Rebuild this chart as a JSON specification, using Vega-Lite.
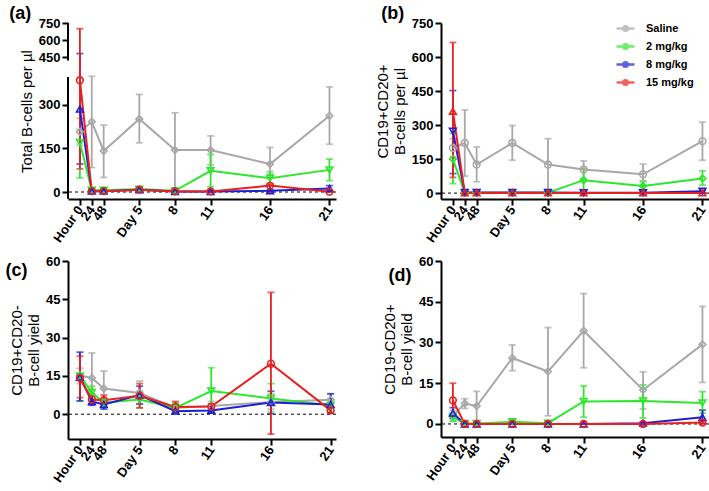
{
  "$schema": "https://vega.github.io/schema/vega-lite/v6.json",
  "background": "white",
  "padding": {"left": 5, "top": 5, "right": 0, "bottom": 0},
  "columns": 2,
  "spacing": {"row": 10, "column": 37},
  "resolve": {"scale": {"color": "independent", "shape": "independent", "x": "independent", "y": "independent"}, "legend": {"color": "independent", "shape": "independent"}},
  "config": {
    "font": "Liberation Sans",
    "view": {"stroke": null},
    "axis": {"grid": false, "labelOverlap": false, "labelBound": false, "domainColor": "black", "domainWidth": 2, "tickColor": "black", "tickWidth": 2, "tickSize": 6, "labelFont": "Liberation Sans", "labelFontWeight": "bold", "labelFontSize": 13, "labelColor": "black", "titleFont": "Liberation Sans", "titleFontWeight": "normal", "titleFontSize": 15, "titleColor": "black"},
    "title": {"font": "Liberation Sans", "fontSize": 18, "fontWeight": "bold", "color": "black", "anchor": "start", "frame": "bounds"}
  },
  "datasets": {
    "d": [
      {"p":"a","g":"Saline","t":0,"v":207,"lo":160,"hi":253},
      {"p":"a","g":"Saline","t":1,"v":241,"lo":84,"hi":396},
      {"p":"a","g":"Saline","t":2,"v":141,"lo":50,"hi":230},
      {"p":"a","g":"Saline","t":5,"v":251,"lo":169,"hi":335},
      {"p":"a","g":"Saline","t":8,"v":144,"lo":0,"hi":272},
      {"p":"a","g":"Saline","t":11,"v":144,"lo":93,"hi":193},
      {"p":"a","g":"Saline","t":16,"v":96,"lo":62,"hi":153},
      {"p":"a","g":"Saline","t":21,"v":262,"lo":164,"hi":361},
      {"p":"a","g":"2 mg/kg","t":0,"v":170,"lo":48,"hi":215},
      {"p":"a","g":"2 mg/kg","t":1,"v":6,"lo":1,"hi":12},
      {"p":"a","g":"2 mg/kg","t":2,"v":6,"lo":1,"hi":11},
      {"p":"a","g":"2 mg/kg","t":5,"v":10,"lo":5,"hi":15},
      {"p":"a","g":"2 mg/kg","t":8,"v":4,"lo":0,"hi":10},
      {"p":"a","g":"2 mg/kg","t":11,"v":73,"lo":18,"hi":129},
      {"p":"a","g":"2 mg/kg","t":16,"v":47,"lo":24,"hi":70},
      {"p":"a","g":"2 mg/kg","t":21,"v":76,"lo":39,"hi":113},
      {"p":"a","g":"8 mg/kg","t":0,"v":285,"lo":96,"hi":480},
      {"p":"a","g":"8 mg/kg","t":1,"v":3,"lo":0,"hi":7},
      {"p":"a","g":"8 mg/kg","t":2,"v":3,"lo":0,"hi":7},
      {"p":"a","g":"8 mg/kg","t":5,"v":8,"lo":4,"hi":12},
      {"p":"a","g":"8 mg/kg","t":8,"v":2,"lo":0,"hi":5},
      {"p":"a","g":"8 mg/kg","t":11,"v":2,"lo":0,"hi":5},
      {"p":"a","g":"8 mg/kg","t":16,"v":4,"lo":0,"hi":8},
      {"p":"a","g":"8 mg/kg","t":21,"v":12,"lo":4,"hi":22},
      {"p":"a","g":"15 mg/kg","t":0,"v":384,"lo":79,"hi":700},
      {"p":"a","g":"15 mg/kg","t":1,"v":3,"lo":0,"hi":6},
      {"p":"a","g":"15 mg/kg","t":2,"v":3,"lo":0,"hi":6},
      {"p":"a","g":"15 mg/kg","t":5,"v":8,"lo":4,"hi":12},
      {"p":"a","g":"15 mg/kg","t":8,"v":2,"lo":0,"hi":4},
      {"p":"a","g":"15 mg/kg","t":11,"v":2,"lo":0,"hi":4},
      {"p":"a","g":"15 mg/kg","t":16,"v":22,"lo":-4,"hi":28},
      {"p":"a","g":"15 mg/kg","t":21,"v":1,"lo":0,"hi":3},

      {"p":"b","g":"Saline","t":0,"v":199,"lo":160,"hi":240},
      {"p":"b","g":"Saline","t":1,"v":221,"lo":75,"hi":367},
      {"p":"b","g":"Saline","t":2,"v":126,"lo":50,"hi":203},
      {"p":"b","g":"Saline","t":5,"v":221,"lo":145,"hi":298},
      {"p":"b","g":"Saline","t":8,"v":126,"lo":0,"hi":240},
      {"p":"b","g":"Saline","t":11,"v":104,"lo":64,"hi":142},
      {"p":"b","g":"Saline","t":16,"v":83,"lo":55,"hi":128},
      {"p":"b","g":"Saline","t":21,"v":229,"lo":145,"hi":313},
      {"p":"b","g":"2 mg/kg","t":0,"v":150,"lo":42,"hi":263},
      {"p":"b","g":"2 mg/kg","t":1,"v":2,"lo":0,"hi":4},
      {"p":"b","g":"2 mg/kg","t":2,"v":2,"lo":0,"hi":4},
      {"p":"b","g":"2 mg/kg","t":5,"v":2,"lo":0,"hi":4},
      {"p":"b","g":"2 mg/kg","t":8,"v":2,"lo":0,"hi":4},
      {"p":"b","g":"2 mg/kg","t":11,"v":57,"lo":5,"hi":108},
      {"p":"b","g":"2 mg/kg","t":16,"v":31,"lo":10,"hi":50},
      {"p":"b","g":"2 mg/kg","t":21,"v":64,"lo":35,"hi":98},
      {"p":"b","g":"8 mg/kg","t":0,"v":273,"lo":86,"hi":452},
      {"p":"b","g":"8 mg/kg","t":1,"v":3,"lo":0,"hi":6},
      {"p":"b","g":"8 mg/kg","t":2,"v":3,"lo":0,"hi":6},
      {"p":"b","g":"8 mg/kg","t":5,"v":3,"lo":0,"hi":6},
      {"p":"b","g":"8 mg/kg","t":8,"v":3,"lo":0,"hi":6},
      {"p":"b","g":"8 mg/kg","t":11,"v":2,"lo":0,"hi":4},
      {"p":"b","g":"8 mg/kg","t":16,"v":2,"lo":0,"hi":4},
      {"p":"b","g":"8 mg/kg","t":21,"v":8,"lo":2,"hi":12},
      {"p":"b","g":"15 mg/kg","t":0,"v":361,"lo":69,"hi":664},
      {"p":"b","g":"15 mg/kg","t":1,"v":1,"lo":0,"hi":2},
      {"p":"b","g":"15 mg/kg","t":2,"v":1,"lo":0,"hi":2},
      {"p":"b","g":"15 mg/kg","t":5,"v":1,"lo":0,"hi":2},
      {"p":"b","g":"15 mg/kg","t":8,"v":1,"lo":0,"hi":2},
      {"p":"b","g":"15 mg/kg","t":11,"v":1,"lo":0,"hi":2},
      {"p":"b","g":"15 mg/kg","t":16,"v":1,"lo":0,"hi":2},
      {"p":"b","g":"15 mg/kg","t":21,"v":1,"lo":0,"hi":2},

      {"p":"c","g":"Saline","t":0,"v":15.2,"lo":12,"hi":18},
      {"p":"c","g":"Saline","t":1,"v":14.2,"lo":5,"hi":24},
      {"p":"c","g":"Saline","t":2,"v":10.1,"lo":4,"hi":16.9},
      {"p":"c","g":"Saline","t":5,"v":8.3,"lo":4,"hi":13},
      {"p":"c","g":"Saline","t":8,"v":2.5,"lo":1,"hi":4},
      {"p":"c","g":"Saline","t":11,"v":3.2,"lo":1.5,"hi":5},
      {"p":"c","g":"Saline","t":16,"v":4.8,"lo":2,"hi":8},
      {"p":"c","g":"Saline","t":21,"v":5.7,"lo":3,"hi":8},
      {"p":"c","g":"2 mg/kg","t":0,"v":15,"lo":5.3,"hi":15.5},
      {"p":"c","g":"2 mg/kg","t":1,"v":8.5,"lo":6,"hi":11},
      {"p":"c","g":"2 mg/kg","t":2,"v":4.5,"lo":3,"hi":6},
      {"p":"c","g":"2 mg/kg","t":5,"v":5.8,"lo":2.5,"hi":9},
      {"p":"c","g":"2 mg/kg","t":8,"v":2.5,"lo":0.5,"hi":4.5},
      {"p":"c","g":"2 mg/kg","t":11,"v":9.1,"lo":0.5,"hi":18.2},
      {"p":"c","g":"2 mg/kg","t":16,"v":6.2,"lo":1,"hi":12},
      {"p":"c","g":"2 mg/kg","t":21,"v":3.5,"lo":1,"hi":6},
      {"p":"c","g":"8 mg/kg","t":0,"v":14.5,"lo":5.2,"hi":24.3},
      {"p":"c","g":"8 mg/kg","t":1,"v":5,"lo":3.5,"hi":7},
      {"p":"c","g":"8 mg/kg","t":2,"v":3.8,"lo":2,"hi":5.5},
      {"p":"c","g":"8 mg/kg","t":5,"v":7.5,"lo":4,"hi":11},
      {"p":"c","g":"8 mg/kg","t":8,"v":1.2,"lo":0.5,"hi":2},
      {"p":"c","g":"8 mg/kg","t":11,"v":1.5,"lo":0.5,"hi":2.5},
      {"p":"c","g":"8 mg/kg","t":16,"v":4.6,"lo":0.2,"hi":9},
      {"p":"c","g":"8 mg/kg","t":21,"v":3.8,"lo":0.5,"hi":8},
      {"p":"c","g":"15 mg/kg","t":0,"v":14.2,"lo":6.5,"hi":22.7},
      {"p":"c","g":"15 mg/kg","t":1,"v":5.8,"lo":4,"hi":8},
      {"p":"c","g":"15 mg/kg","t":2,"v":5.5,"lo":3.5,"hi":7.5},
      {"p":"c","g":"15 mg/kg","t":5,"v":7.2,"lo":2.5,"hi":12},
      {"p":"c","g":"15 mg/kg","t":8,"v":2.8,"lo":1,"hi":5},
      {"p":"c","g":"15 mg/kg","t":11,"v":3,"lo":1.5,"hi":4},
      {"p":"c","g":"15 mg/kg","t":16,"v":19.8,"lo":-7.8,"hi":47.7},
      {"p":"c","g":"15 mg/kg","t":21,"v":1.5,"lo":0.5,"hi":2.5},

      {"p":"d","g":"Saline","t":0,"v":3,"lo":1,"hi":5},
      {"p":"d","g":"Saline","t":1,"v":7.5,"lo":5.7,"hi":9.3},
      {"p":"d","g":"Saline","t":2,"v":6.6,"lo":0.3,"hi":12},
      {"p":"d","g":"Saline","t":5,"v":24.3,"lo":19.6,"hi":29.1},
      {"p":"d","g":"Saline","t":8,"v":19.3,"lo":3,"hi":35.5},
      {"p":"d","g":"Saline","t":11,"v":34.3,"lo":20.7,"hi":48},
      {"p":"d","g":"Saline","t":16,"v":12.5,"lo":5.5,"hi":19.2},
      {"p":"d","g":"Saline","t":21,"v":29.3,"lo":15.3,"hi":43.3},
      {"p":"d","g":"2 mg/kg","t":0,"v":2.5,"lo":1,"hi":4},
      {"p":"d","g":"2 mg/kg","t":1,"v":0.2,"lo":0,"hi":0.4},
      {"p":"d","g":"2 mg/kg","t":2,"v":0.2,"lo":0,"hi":0.4},
      {"p":"d","g":"2 mg/kg","t":5,"v":0.8,"lo":0.3,"hi":1.3},
      {"p":"d","g":"2 mg/kg","t":8,"v":0.3,"lo":0,"hi":0.6},
      {"p":"d","g":"2 mg/kg","t":11,"v":8.3,"lo":2.5,"hi":14},
      {"p":"d","g":"2 mg/kg","t":16,"v":8.5,"lo":2.2,"hi":14.4},
      {"p":"d","g":"2 mg/kg","t":21,"v":7.7,"lo":4,"hi":11.9},
      {"p":"d","g":"8 mg/kg","t":0,"v":4,"lo":2,"hi":6},
      {"p":"d","g":"8 mg/kg","t":1,"v":0,"lo":0,"hi":0},
      {"p":"d","g":"8 mg/kg","t":2,"v":0,"lo":0,"hi":0},
      {"p":"d","g":"8 mg/kg","t":5,"v":0,"lo":0,"hi":0},
      {"p":"d","g":"8 mg/kg","t":8,"v":0,"lo":0,"hi":0},
      {"p":"d","g":"8 mg/kg","t":11,"v":0,"lo":0,"hi":0},
      {"p":"d","g":"8 mg/kg","t":16,"v":0.3,"lo":0,"hi":0.6},
      {"p":"d","g":"8 mg/kg","t":21,"v":2.5,"lo":0.3,"hi":5.1},
      {"p":"d","g":"15 mg/kg","t":0,"v":8.7,"lo":2.5,"hi":15},
      {"p":"d","g":"15 mg/kg","t":1,"v":0,"lo":0,"hi":0},
      {"p":"d","g":"15 mg/kg","t":2,"v":0,"lo":0,"hi":0},
      {"p":"d","g":"15 mg/kg","t":5,"v":0,"lo":0,"hi":0},
      {"p":"d","g":"15 mg/kg","t":8,"v":0,"lo":0,"hi":0},
      {"p":"d","g":"15 mg/kg","t":11,"v":0,"lo":0,"hi":0},
      {"p":"d","g":"15 mg/kg","t":16,"v":0,"lo":0,"hi":0},
      {"p":"d","g":"15 mg/kg","t":21,"v":0.5,"lo":0,"hi":1}
    ],
    "axseg": [
      {"y1": -24, "y2": 395},
      {"y1": 420, "y2": 750}
    ]
  },
  "concat": [
    {
      "width": 268, "height": 176,
      "title": {"text": "(a)", "dx": -10, "offset": -6},
      "layer": [
        {
          "data": {"name": "axseg"},
          "mark": {"type": "rule", "color": "black", "strokeWidth": 2},
          "encoding": {
            "x": {"datum": -1, "type": "quantitative"},
            "y": {"field": "y1", "type": "quantitative"},
            "y2": {"field": "y2"}
          }
        },
        {
          "data": {"values": [{}]},
          "mark": {"type": "rule", "color": "black", "strokeWidth": 1, "strokeDash": [3, 3]},
          "encoding": {"y": {"datum": 0, "type": "quantitative"}}
        },
        {
          "data": {"name": "d"},
          "transform": [{"filter": "datum.p == 'a'"}],
          "layer": [
            {
              "mark": {"type": "errorbar", "ticks": true, "size": 7, "thickness": 1.8},
              "encoding": {
                "x": {"field": "t", "type": "quantitative"},
                "y": {"field": "lo", "type": "quantitative", "title": "Total B-cells per µl"},
                "y2": {"field": "hi"},
                "color": {"field": "g", "type": "nominal", "legend": null}
              }
            },
            {
              "mark": {"type": "line", "strokeWidth": 2},
              "encoding": {
                "x": {"field": "t", "type": "quantitative"},
                "y": {"field": "v", "type": "quantitative", "title": "Total B-cells per µl"},
                "color": {"field": "g", "type": "nominal", "legend": null}
              }
            },
            {
              "mark": {"type": "point", "filled": false, "size": 45, "strokeWidth": 1.6, "opacity": 1},
              "encoding": {
                "x": {"field": "t", "type": "quantitative"},
                "y": {"field": "v", "type": "quantitative", "title": "Total B-cells per µl"},
                "color": {"field": "g", "type": "nominal", "legend": null},
                "shape": {"field": "g", "type": "nominal", "legend": null, "scale": {"domain": ["Saline", "2 mg/kg", "8 mg/kg", "15 mg/kg"], "range": ["diamond", "triangle-down", "triangle-up", "circle"]}}
              }
            }
          ]
        }
      ],
      "encoding": {
        "x": {"type": "quantitative", "scale": {"domain": [-1, 21.55], "nice": false, "zero": false}, "axis": {"values": [0, 1, 2, 5, 8, 11, 16, 21], "labelAngle": -55, "title": null, "labelExpr": "datum.value==0?'Hour 0':datum.value==1?'24':datum.value==2?'48':datum.value==5?'Day 5':datum.label"}},
        "y": {"type": "quantitative", "scale": {"domain": [-24, 395, 420, 750], "range": [176, 54, 37.4, 0], "nice": false, "zero": false}, "axis": {"values": [0, 150, 300, 450, 600, 750], "domain": false, "title": "Total B-cells per µl"}},
        "color": {"type": "nominal", "scale": {"domain": ["Saline", "2 mg/kg", "8 mg/kg", "15 mg/kg"], "range": ["#a8a8a8", "#2ee62e", "#1e1ed2", "#e8201e"]}}
      }
    },
    {
      "width": 268, "height": 176,
      "title": {"text": "(b)", "dx": 6, "offset": -6},
      "layer": [
        {
          "data": {"values": [{}]},
          "mark": {"type": "rule", "color": "black", "strokeWidth": 1, "strokeDash": [3, 3]},
          "encoding": {"y": {"datum": 0, "type": "quantitative"}}
        },
        {
          "data": {"name": "d"},
          "transform": [{"filter": "datum.p == 'b'"}],
          "layer": [
            {
              "mark": {"type": "errorbar", "ticks": true, "size": 7, "thickness": 1.8},
              "encoding": {
                "x": {"field": "t", "type": "quantitative"},
                "y": {"field": "lo", "type": "quantitative", "title": ["CD19+CD20+", "B-cells per µl"]},
                "y2": {"field": "hi"},
                "color": {"field": "g", "type": "nominal", "legend": {"orient": "none", "legendX": 176, "legendY": -3, "title": null, "symbolType": "M-1.3,0L1.3,0M0.33,0A0.33,0.33,0,1,1,-0.33,0A0.33,0.33,0,1,1,0.33,0", "symbolSize": 190, "symbolStrokeWidth": 2.5, "labelFont": "Liberation Sans", "labelFontSize": 11, "labelFontWeight": "bold", "labelColor": "black", "rowPadding": 2, "labelOffset": 12}}
              }
            },
            {
              "mark": {"type": "line", "strokeWidth": 2},
              "encoding": {
                "x": {"field": "t", "type": "quantitative"},
                "y": {"field": "v", "type": "quantitative", "title": ["CD19+CD20+", "B-cells per µl"]},
                "color": {"field": "g", "type": "nominal", "legend": {"orient": "none", "legendX": 176, "legendY": -3, "title": null, "symbolType": "M-1.3,0L1.3,0M0.33,0A0.33,0.33,0,1,1,-0.33,0A0.33,0.33,0,1,1,0.33,0", "symbolSize": 190, "symbolStrokeWidth": 2.5, "labelFont": "Liberation Sans", "labelFontSize": 11, "labelFontWeight": "bold", "labelColor": "black", "rowPadding": 2, "labelOffset": 12}}
              }
            },
            {
              "transform": [{"filter": "datum.g == 'Saline'"}],
              "mark": {"type": "point", "shape": "circle", "filled": false, "size": 45, "strokeWidth": 1.6, "opacity": 1},
              "encoding": {
                "x": {"field": "t", "type": "quantitative"},
                "y": {"field": "v", "type": "quantitative", "title": ["CD19+CD20+", "B-cells per µl"]},
                "color": {"field": "g", "type": "nominal", "legend": null}
              }
            },
            {
              "transform": [{"filter": "datum.g == '2 mg/kg'"}],
              "mark": {"type": "point", "shape": "diamond", "filled": false, "size": 45, "strokeWidth": 1.6, "opacity": 1},
              "encoding": {
                "x": {"field": "t", "type": "quantitative"},
                "y": {"field": "v", "type": "quantitative", "title": ["CD19+CD20+", "B-cells per µl"]},
                "color": {"field": "g", "type": "nominal", "legend": null}
              }
            },
            {
              "transform": [{"filter": "datum.g == '8 mg/kg'"}],
              "mark": {"type": "point", "shape": "triangle-down", "filled": false, "size": 45, "strokeWidth": 1.6, "opacity": 1},
              "encoding": {
                "x": {"field": "t", "type": "quantitative"},
                "y": {"field": "v", "type": "quantitative", "title": ["CD19+CD20+", "B-cells per µl"]},
                "color": {"field": "g", "type": "nominal", "legend": null}
              }
            },
            {
              "transform": [{"filter": "datum.g == '15 mg/kg'"}],
              "mark": {"type": "point", "shape": "triangle-up", "filled": false, "size": 45, "strokeWidth": 1.6, "opacity": 1},
              "encoding": {
                "x": {"field": "t", "type": "quantitative"},
                "y": {"field": "v", "type": "quantitative", "title": ["CD19+CD20+", "B-cells per µl"]},
                "color": {"field": "g", "type": "nominal", "legend": null}
              }
            }
          ]
        }
      ],
      "encoding": {
        "x": {"type": "quantitative", "scale": {"domain": [-1, 21.55], "nice": false, "zero": false}, "axis": {"values": [0, 1, 2, 5, 8, 11, 16, 21], "labelAngle": -55, "title": null, "labelExpr": "datum.value==0?'Hour 0':datum.value==1?'24':datum.value==2?'48':datum.value==5?'Day 5':datum.label"}},
        "y": {"type": "quantitative", "scale": {"domain": [-26, 750], "nice": false, "zero": false}, "axis": {"values": [0, 150, 300, 450, 600, 750], "title": ["CD19+CD20+", "B-cells per µl"]}},
        "color": {"type": "nominal", "scale": {"domain": ["Saline", "2 mg/kg", "8 mg/kg", "15 mg/kg"], "range": ["#a8a8a8", "#2ee62e", "#1e1ed2", "#e8201e"]}}
      }
    },
    {
      "width": 268, "height": 178,
      "title": {"text": "(c)", "dx": -4, "offset": -25},
      "layer": [
        {
          "data": {"values": [{}]},
          "mark": {"type": "rule", "color": "black", "strokeWidth": 1, "strokeDash": [3, 3]},
          "encoding": {"y": {"datum": 0, "type": "quantitative"}}
        },
        {
          "data": {"name": "d"},
          "transform": [{"filter": "datum.p == 'c'"}],
          "layer": [
            {
              "mark": {"type": "errorbar", "ticks": true, "size": 7, "thickness": 1.8},
              "encoding": {
                "x": {"field": "t", "type": "quantitative"},
                "y": {"field": "lo", "type": "quantitative", "title": ["CD19+CD20-", "B-cell yield"]},
                "y2": {"field": "hi"},
                "color": {"field": "g", "type": "nominal", "legend": null}
              }
            },
            {
              "mark": {"type": "line", "strokeWidth": 2},
              "encoding": {
                "x": {"field": "t", "type": "quantitative"},
                "y": {"field": "v", "type": "quantitative", "title": ["CD19+CD20-", "B-cell yield"]},
                "color": {"field": "g", "type": "nominal", "legend": null}
              }
            },
            {
              "mark": {"type": "point", "filled": false, "size": 45, "strokeWidth": 1.6, "opacity": 1},
              "encoding": {
                "x": {"field": "t", "type": "quantitative"},
                "y": {"field": "v", "type": "quantitative", "title": ["CD19+CD20-", "B-cell yield"]},
                "color": {"field": "g", "type": "nominal", "legend": null},
                "shape": {"field": "g", "type": "nominal", "legend": null, "scale": {"domain": ["Saline", "2 mg/kg", "8 mg/kg", "15 mg/kg"], "range": ["diamond", "triangle-down", "triangle-up", "circle"]}}
              }
            }
          ]
        }
      ],
      "encoding": {
        "x": {"type": "quantitative", "scale": {"domain": [-1, 21.45], "nice": false, "zero": false}, "axis": {"values": [0, 1, 2, 5, 8, 11, 16, 21], "labelAngle": -55, "title": null, "labelExpr": "datum.value==0?'Hour 0':datum.value==1?'24':datum.value==2?'48':datum.value==5?'Day 5':datum.label"}},
        "y": {"type": "quantitative", "scale": {"domain": [-9.7, 60], "nice": false, "zero": false}, "axis": {"values": [0, 15, 30, 45, 60], "title": ["CD19+CD20-", "B-cell yield"]}},
        "color": {"type": "nominal", "scale": {"domain": ["Saline", "2 mg/kg", "8 mg/kg", "15 mg/kg"], "range": ["#a8a8a8", "#2ee62e", "#1e1ed2", "#e8201e"]}}
      }
    },
    {
      "width": 268, "height": 176,
      "title": {"text": "(d)", "dx": 6, "offset": -30},
      "layer": [
        {
          "data": {"values": [{}]},
          "mark": {"type": "rule", "color": "black", "strokeWidth": 1, "strokeDash": [3, 3]},
          "encoding": {"y": {"datum": 0, "type": "quantitative"}}
        },
        {
          "data": {"name": "d"},
          "transform": [{"filter": "datum.p == 'd'"}],
          "layer": [
            {
              "mark": {"type": "errorbar", "ticks": true, "size": 7, "thickness": 1.8},
              "encoding": {
                "x": {"field": "t", "type": "quantitative"},
                "y": {"field": "lo", "type": "quantitative", "title": ["CD19-CD20+", "B-cell yield"]},
                "y2": {"field": "hi"},
                "color": {"field": "g", "type": "nominal", "legend": null}
              }
            },
            {
              "mark": {"type": "line", "strokeWidth": 2},
              "encoding": {
                "x": {"field": "t", "type": "quantitative"},
                "y": {"field": "v", "type": "quantitative", "title": ["CD19-CD20+", "B-cell yield"]},
                "color": {"field": "g", "type": "nominal", "legend": null}
              }
            },
            {
              "mark": {"type": "point", "filled": false, "size": 45, "strokeWidth": 1.6, "opacity": 1},
              "encoding": {
                "x": {"field": "t", "type": "quantitative"},
                "y": {"field": "v", "type": "quantitative", "title": ["CD19-CD20+", "B-cell yield"]},
                "color": {"field": "g", "type": "nominal", "legend": null},
                "shape": {"field": "g", "type": "nominal", "legend": null, "scale": {"domain": ["Saline", "2 mg/kg", "8 mg/kg", "15 mg/kg"], "range": ["diamond", "triangle-down", "triangle-up", "circle"]}}
              }
            }
          ]
        }
      ],
      "encoding": {
        "x": {"type": "quantitative", "scale": {"domain": [-1, 21.55], "nice": false, "zero": false}, "axis": {"values": [0, 1, 2, 5, 8, 11, 16, 21], "labelAngle": -55, "title": null, "labelExpr": "datum.value==0?'Hour 0':datum.value==1?'24':datum.value==2?'48':datum.value==5?'Day 5':datum.label"}},
        "y": {"type": "quantitative", "scale": {"domain": [-4.8, 60], "nice": false, "zero": false}, "axis": {"values": [0, 15, 30, 45, 60], "title": ["CD19-CD20+", "B-cell yield"]}},
        "color": {"type": "nominal", "scale": {"domain": ["Saline", "2 mg/kg", "8 mg/kg", "15 mg/kg"], "range": ["#a8a8a8", "#2ee62e", "#1e1ed2", "#e8201e"]}}
      }
    }
  ]
}
